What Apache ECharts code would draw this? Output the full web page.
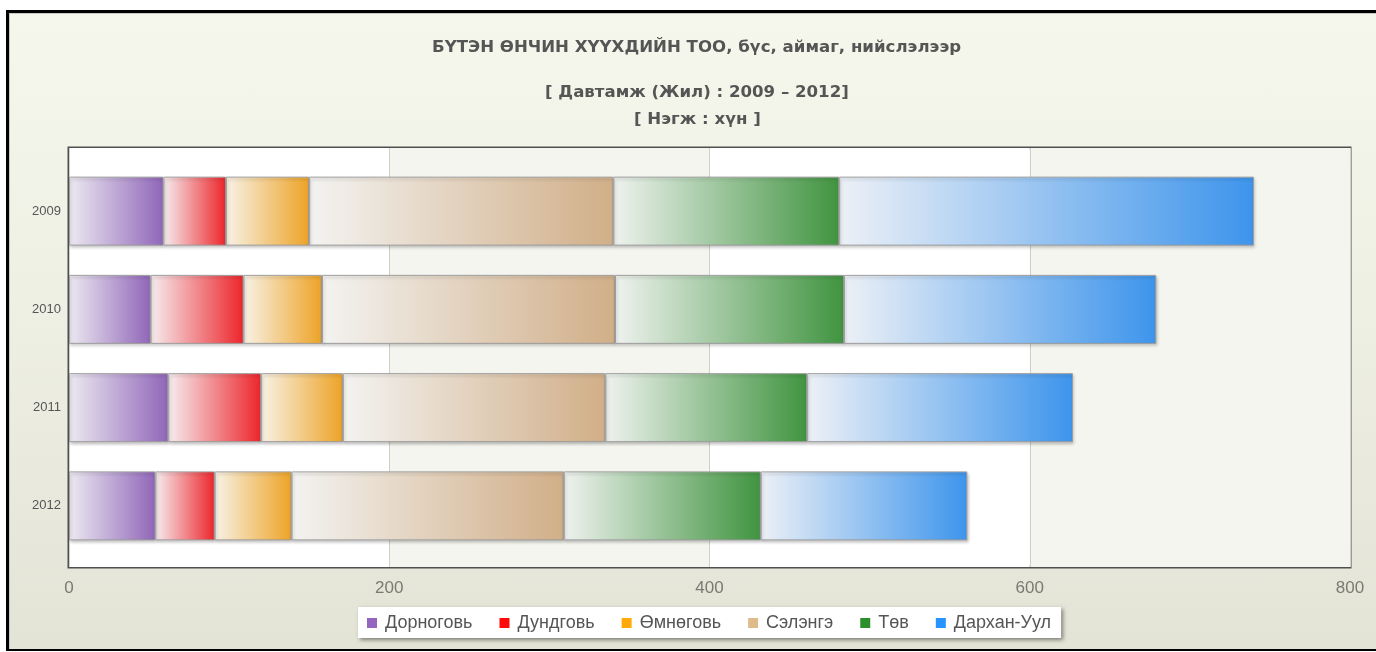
<!DOCTYPE html>
<html>
<head>
<meta charset="utf-8">
<script src="https://cdn.jsdelivr.net/npm/echarts@6/dist/echarts.min.js"></script>
<style>
  html, body { margin: 0; padding: 0; background: #ffffff; width: 1376px; height: 652px; overflow: hidden; }
  #frame { position: absolute; left: 6px; top: 10px; width: 1380px; height: 636px;
    border-left: 3px solid #000; border-top: 3px solid #000; border-bottom: 2px solid #000;
    background: linear-gradient(to bottom, #f6f7ec 0%, #eff0e4 45%, #e3e4d6 100%); }
  #inner { position: absolute; left: 0; top: 0; right: 0; bottom: 0; border-left: 1px solid #c9c9c0; border-top: 1px solid #c9c9c0; }
  #chart { position: absolute; left: 0; top: 0; width: 1376px; height: 652px; }
</style>
</head>
<body>
<div id="frame"><div id="inner"></div></div>
<div id="chart"></div>
<script>
// ---- data ----
const years = ['2009', '2010', '2011', '2012'];
const seriesNames = ['Дорноговь', 'Дундговь', 'Өмнөговь', 'Сэлэнгэ', 'Төв', 'Дархан-Уул'];
const dornogovi = [59, 51, 62, 54];
const dundgovi  = [39, 58, 58, 37];
const omnogovi  = [52, 49, 51, 48];
const selenge   = [190, 183, 164, 170];
const tov       = [141, 143, 126, 123];
const darkhan   = [259, 195, 166, 129];
const xTicks = [0, 200, 400, 600, 800];
const titleLines = ['БҮТЭН ӨНЧИН ХҮҮХДИЙН ТОО, бүс, аймаг, нийслэлээр', '[ Давтамж (Жил) : 2009 – 2012]', '[ Нэгж : хүн ]'];

// ---- styles ----
const seriesValues = [dornogovi, dundgovi, omnogovi, selenge, tov, darkhan];
const legendColors = ['#9060c0', '#ff0000', '#ffa500', '#deb887', '#228b22', '#1e90ff'];
const gradStart = ['#eeebf3', '#f8eff1', '#faf4e8', '#f5f5f3', '#f1f4f1', '#eef2f8'];
const gradEnd   = ['#8e62b8', '#ee1f25', '#efa220', '#d2ae86', '#3b923b', '#3893ee'];

function grad(a, b) {
  return { type: 'linear', x: 0, y: 0, x2: 1, y2: 0,
    colorStops: [{ offset: 0, color: a }, { offset: 1, color: b }] };
}

const chart = echarts.init(document.getElementById('chart'), null, { renderer: 'canvas' });

const titleFont = 'bold 16.6px "DejaVu Sans", sans-serif';
const ctx = document.createElement('canvas').getContext('2d');
ctx.font = titleFont;
const titleTops = [39, 84, 111];
const titleGraphics = titleLines.map((t, i) => ({
  type: 'text', left: Math.round(697 - ctx.measureText(t).width / 2), top: titleTops[i],
  style: { text: t, font: titleFont, fill: '#555555' }
}));

const option = {
  animation: false,
  backgroundColor: 'transparent',
  graphic: titleGraphics,
  legend: {
    left: 358, top: 607,
    padding: [7, 10, 6, 9],
    itemGap: 27,
    itemWidth: 10, itemHeight: 10,
    icon: 'rect',
    backgroundColor: '#ffffff',
    shadowColor: 'rgba(0,0,0,0.45)', shadowBlur: 4, shadowOffsetX: 2, shadowOffsetY: 2,
    textStyle: { fontSize: 18, color: '#555', fontFamily: '"Liberation Sans", Arial, sans-serif', padding: [0, 0, 0, 3] },
    data: seriesNames.map((n, i) => ({ name: n, itemStyle: { color: legendColors[i], borderWidth: 0 } }))
  },
  grid: [
    { left: 69, right: 26, top: 148, bottom: 85, show: true, backgroundColor: '#ffffff', borderColor: '#505050', borderWidth: 3 },
    { left: 69, right: 26, top: 162, bottom: 97 }
  ],
  xAxis: [
    { type: 'value', gridIndex: 0, min: xTicks[0], max: xTicks[xTicks.length - 1], interval: 200,
      axisLine: { show: false }, axisTick: { show: false },
      axisLabel: { margin: 13, fontSize: 17, color: '#7a7a72', fontFamily: '"Liberation Sans", Arial, sans-serif' },
      splitLine: { show: true, lineStyle: { color: '#cfcfc8', width: 1 } },
      splitArea: { show: true, areaStyle: { color: ['#ffffff', '#f5f5f0'] } } },
    { type: 'value', gridIndex: 1, min: xTicks[0], max: xTicks[xTicks.length - 1], interval: 200, show: false }
  ],
  yAxis: [
    { type: 'value', gridIndex: 0, show: false },
    { type: 'category', gridIndex: 1, data: years, inverse: true,
      axisLine: { show: false }, axisTick: { show: false },
      axisLabel: { margin: 8, fontSize: 13, color: '#555', fontFamily: '"Liberation Sans", Arial, sans-serif' } }
  ],
  series: seriesNames.map((n, i) => ({
    name: n, type: 'bar', stack: 'total', xAxisIndex: 1, yAxisIndex: 1,
    barWidth: 69,
    data: seriesValues[i],
    itemStyle: {
      color: grad(gradStart[i], gradEnd[i]),
      borderColor: '#9c9c9c', borderWidth: 1,
      shadowColor: 'rgba(0,0,0,0.25)', shadowBlur: 3, shadowOffsetX: 1, shadowOffsetY: 2,
      opacity: 0.96
    },
    emphasis: { disabled: true }
  }))
};
chart.setOption(option);
</script>
</body>
</html>
